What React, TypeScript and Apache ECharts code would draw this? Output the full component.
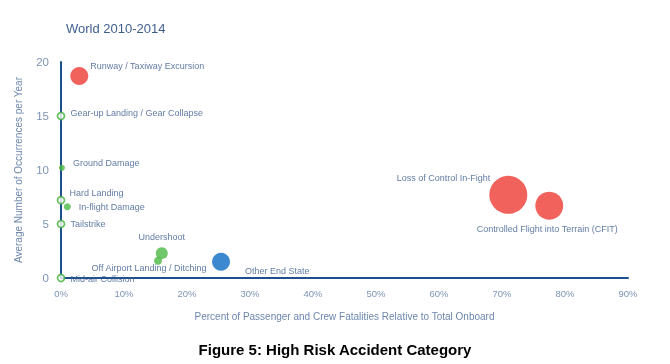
import React, { useEffect, useRef } from "react";
import * as echarts from "echarts";

const categories = [
  "Runway / Taxiway Excursion",
  "Gear-up Landing / Gear Collapse",
  "Ground Damage",
  "Hard Landing",
  "In-flight Damage",
  "Tailstrike",
  "Mid-air Collision",
  "Undershoot",
  "Off Airport Landing / Ditching",
  "Other End State",
  "Loss of Control In-Fight",
  "Controlled Flight into Terrain (CFIT)",
];
const fatalityPct = [2.9, 0, 0.15, 0, 1.0, 0, 0, 16.0, 15.4, 25.4, 71.0, 77.5];
const occurrences = [18.7, 15.0, 10.2, 7.2, 6.6, 5.0, 0, 2.3, 1.6, 1.5, 7.7, 6.7];
const bubbleSize = [18, 7, 6, 7, 7, 7, 7, 12, 8, 18, 38, 28];
const kind = ["red", "hollow", "green", "hollow", "green", "hollow", "hollow", "green", "green", "blue", "red", "red"];
const xTicks = [0, 10, 20, 30, 40, 50, 60, 70, 80, 90];
const yTicks = [0, 5, 10, 15, 20];

const labelPlacement: Record<string, any> = {
  "Runway / Taxiway Excursion": { position: "right", offset: [-3, -10] },
  "Gear-up Landing / Gear Collapse": { position: "right", offset: [0, -3] },
  "Ground Damage": { position: "right", offset: [3, -5] },
  "Hard Landing": { position: "right", offset: [-1, -7] },
  "In-flight Damage": { position: "right", offset: [3, 0] },
  "Tailstrike": { position: "right", offset: [0, 0] },
  "Mid-air Collision": { position: "right", offset: [0, 1] },
  "Undershoot": { position: "top", offset: [0, -1] },
  "Off Airport Landing / Ditching": { position: "bottom", offset: [-9, -6] },
  "Other End State": { position: "right", offset: [10, 9] },
  "Loss of Control In-Fight": { position: "left", offset: [6, -17] },
  "Controlled Flight into Terrain (CFIT)": { position: "bottom", offset: [-2, 0] },
};

const colors: Record<string, any> = {
  red: { color: "#ee3b35" },
  green: { color: "#4cb944" },
  blue: { color: "#0b6cc4" },
  hollow: { color: "#ffffff", borderColor: "#44b23c", borderWidth: 1.8 },
};

export default function App() {
  const ref = useRef<HTMLDivElement>(null);
  useEffect(() => {
    const chart = echarts.init(ref.current!, null, { renderer: "svg" });
    const data = categories.map((name, i) => ({
      name,
      value: [fatalityPct[i], occurrences[i]],
      symbolSize: bubbleSize[i],
      itemStyle: colors[kind[i]],
      label: {
        show: true,
        formatter: name,
        distance: 5,
        ...labelPlacement[name],
      },
    }));
    chart.setOption({
      animation: false,
      textStyle: { fontFamily: "Liberation Sans, Arial, sans-serif" },
      title: [
        {
          text: "World 2010-2014",
          left: 61,
          top: 17,
          textStyle: { fontSize: 13, fontWeight: "normal", color: "#3e5f8e" },
        },
        {
          text: "Figure 5: High Risk Accident Category",
          left: "center",
          top: 337,
          textStyle: { fontSize: 15, fontWeight: "bold", color: "#000000" },
        },
      ],
      grid: { left: 61, right: 42, top: 62, bottom: 86 },
      xAxis: {
        type: "value",
        min: xTicks[0],
        max: xTicks[xTicks.length - 1],
        interval: 10,
        name: "Percent of Passenger and Crew Fatalities Relative to Total Onboard",
        nameLocation: "middle",
        nameGap: 33,
        nameTextStyle: { fontSize: 10, color: "#6d87ad" },
        axisLine: { show: true, lineStyle: { color: "#1d4f8e", width: 2 } },
        axisTick: { show: false },
        splitLine: { show: false },
        axisLabel: { formatter: "{value}%", fontSize: 9.5, color: "#7d94b6", margin: 10 },
      },
      yAxis: {
        type: "value",
        min: yTicks[0],
        max: yTicks[yTicks.length - 1],
        interval: 5,
        name: "Average Number of Occurrences per Year",
        nameLocation: "middle",
        nameGap: 38,
        nameTextStyle: { fontSize: 10, color: "#6d87ad" },
        axisLine: { show: true, lineStyle: { color: "#1d4f8e", width: 2 } },
        axisTick: { show: false },
        splitLine: { show: false },
        axisLabel: { fontSize: 11.5, color: "#7d94b6", margin: 12 },
      },
      series: [
        {
          type: "scatter",
          data,
          label: { fontSize: 9, color: "#3a5a8c" },
          z: 3,
        },
      ],
    });
    return () => chart.dispose();
  }, []);
  return (
    <div
      ref={ref}
      style={{ position: "fixed", left: 0, top: 0, width: 670, height: 364 }}
    />
  );
}
